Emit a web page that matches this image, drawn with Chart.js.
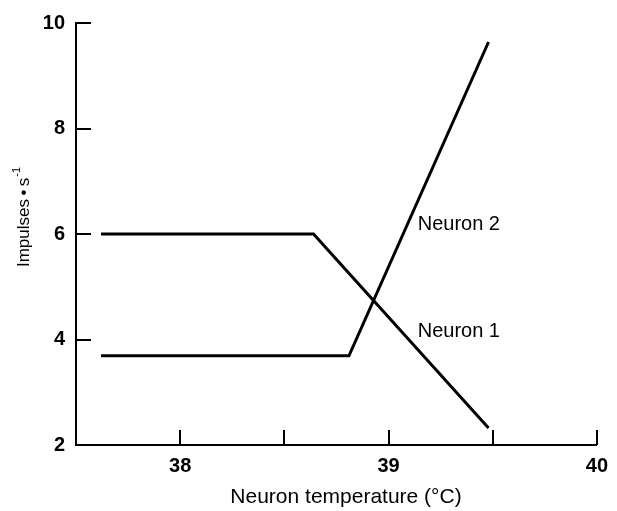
<!DOCTYPE html>
<html>
<head>
<meta charset="utf-8">
<script src="https://cdn.jsdelivr.net/npm/chart.js@4"></script>
<style>
  html, body { margin: 0; padding: 0; background: #fff; }
  #wrap { width: 617px; height: 511px; position: relative; }
</style>
</head>
<body>
<div id="wrap"><canvas id="c" width="617" height="511"></canvas></div>
<script>
// ---- data ----
const neuron1X = [37.62, 38.64, 39.48];
const neuron1Y = [6.0, 6.0, 2.32];
const neuron2X = [37.62, 38.81, 39.48];
const neuron2Y = [3.69, 3.69, 9.64];
const xTickLabels = [38, 39, 40];
const xTickMarks = [38, 38.5, 39, 39.5, 40];
const yTickLabels = [2, 4, 6, 8, 10];
const yTickMarks = [4, 6, 8, 10];
const seriesNames = ['Neuron 1', 'Neuron 2'];
const xTitle = 'Neuron temperature (°C)';

const FONT = '"Liberation Sans", Arial, Helvetica, sans-serif';

function pts(xs, ys) { return xs.map((x, i) => ({ x: x, y: ys[i] })); }

const decor = {
  id: 'decor',
  afterDatasetsDraw(chart) {
    const ctx = chart.ctx;
    const xs = chart.scales.x, ys = chart.scales.y;
    const area = chart.chartArea;
    ctx.save();
    ctx.strokeStyle = '#000';
    ctx.lineWidth = 2;
    ctx.beginPath();
    yTickMarks.forEach(v => {
      const py = Math.round(ys.getPixelForValue(v));
      ctx.moveTo(area.left, py);
      ctx.lineTo(area.left + 15, py);
    });
    xTickMarks.forEach(v => {
      const px = Math.round(xs.getPixelForValue(v));
      ctx.moveTo(px, area.bottom);
      ctx.lineTo(px, area.bottom - 15);
    });
    ctx.stroke();

    // series labels
    ctx.fillStyle = '#000';
    ctx.font = '20px ' + FONT;
    ctx.textAlign = 'left';
    ctx.textBaseline = 'middle';
    ctx.fillText(seriesNames[1], xs.getPixelForValue(39.14), ys.getPixelForValue(6.18));
    ctx.fillText(seriesNames[0], xs.getPixelForValue(39.14), ys.getPixelForValue(4.15));

    // x axis title
    ctx.font = '21px ' + FONT;
    ctx.textAlign = 'center';
    ctx.textBaseline = 'middle';
    ctx.fillText(xTitle, 346, 497);

    // y axis title (rotated, with superscript)
    ctx.translate(23, 217);
    ctx.rotate(-Math.PI / 2);
    const main = 'Impulses\u2009\u2022\u2009s';
    const sup = '-1';
    ctx.font = '17px ' + FONT;
    const wMain = ctx.measureText(main).width;
    ctx.font = '11px ' + FONT;
    const wSup = ctx.measureText(sup).width;
    const total = wMain + wSup + 1;
    ctx.textAlign = 'left';
    ctx.textBaseline = 'alphabetic';
    ctx.font = '17px ' + FONT;
    ctx.fillText(main, -total / 2, 6);
    ctx.font = '11px ' + FONT;
    ctx.fillText(sup, -total / 2 + wMain + 1, -3);
    ctx.restore();
  }
};

new Chart(document.getElementById('c'), {
  type: 'scatter',
  data: {
    datasets: [
      { label: seriesNames[0], data: pts(neuron1X, neuron1Y), showLine: true,
        borderColor: '#000', borderWidth: 3, pointRadius: 0, fill: false, tension: 0 },
      { label: seriesNames[1], data: pts(neuron2X, neuron2Y), showLine: true,
        borderColor: '#000', borderWidth: 3, pointRadius: 0, fill: false, tension: 0 }
    ]
  },
  options: {
    responsive: false,
    animation: false,
    devicePixelRatio: 1,
    layout: { padding: { left: 0, right: 14, top: 18, bottom: 0 } },
    plugins: { legend: { display: false }, tooltip: { enabled: false } },
    scales: {
      x: {
        type: 'linear', min: 37.5, max: 40,
        afterBuildTicks: s => { s.ticks = xTickLabels.map(v => ({ value: v })); },
        afterFit: s => { s.height = 66; },
        grid: { display: false, drawTicks: false },
        border: { display: true, color: '#000', width: 2 },
        ticks: { color: '#000', padding: 9, font: { family: FONT, size: 20, weight: 'bold' }, maxRotation: 0,
                 callback: v => String(v) },
        title: { display: false }
      },
      y: {
        type: 'linear', min: 2, max: 10,
        afterBuildTicks: s => { s.ticks = yTickLabels.map(v => ({ value: v })); },
        afterFit: s => { s.width = 76; },
        grid: { display: false, drawTicks: false },
        border: { display: true, color: '#000', width: 2 },
        ticks: { color: '#000', padding: 11, font: { family: FONT, size: 20, weight: 'bold' },
                 callback: v => String(v) }
      }
    }
  },
  plugins: [decor]
});
</script>
</body>
</html>
